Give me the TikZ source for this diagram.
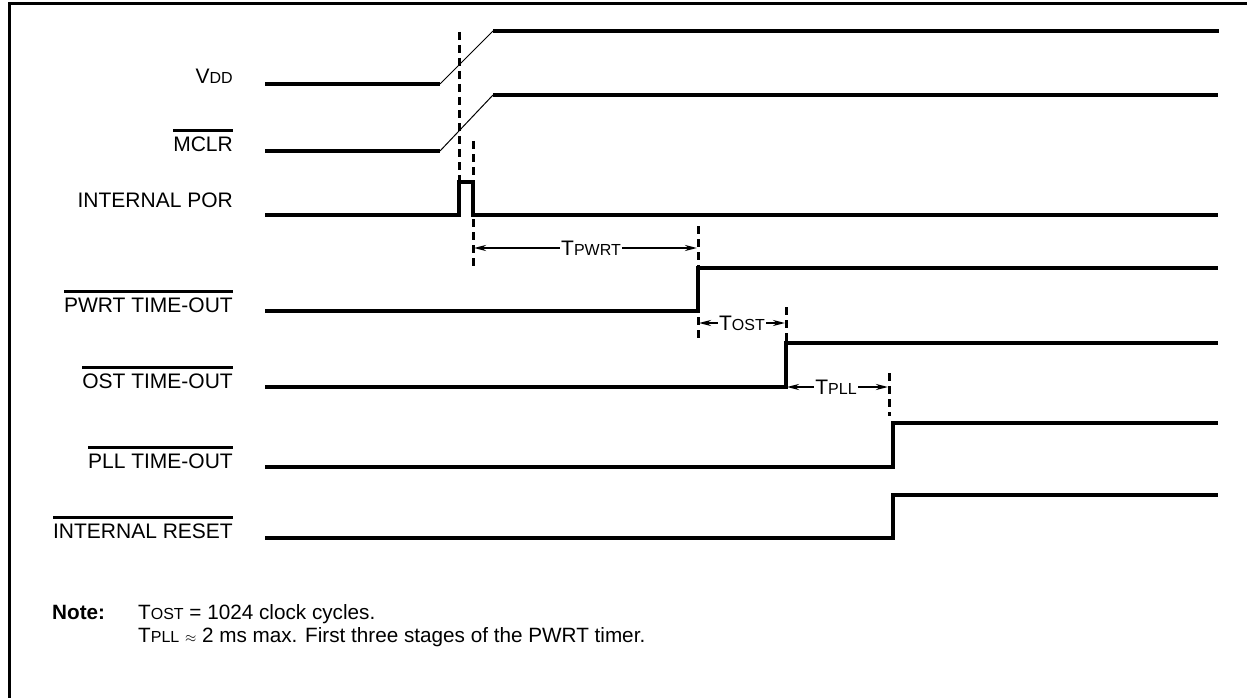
\documentclass[tikz,border=0pt]{standalone}
\usepackage{fontspec}
\setmainfont{Liberation Sans}
\usetikzlibrary{arrows.meta}
\newcommand\smc[1]{{\fontsize{16}{18}\selectfont #1}}
\newcommand\ovl[1]{\leavevmode\vbox{\hrule height 2.8pt \kern 4.5pt \hbox{#1}}}
\begin{document}
\begin{tikzpicture}[x=1pt,y=-1pt,
  sig/.style={line width=3.3pt, line cap=butt, line join=miter},
  ramp/.style={line width=1pt},
  dashmarker/.style={line width=3pt, dash pattern=on 8pt off 5pt},
  dim/.style={line width=2pt, {Stealth[length=12pt,width=6pt]}-{Stealth[length=12pt,width=6pt]}},
  lbl/.style={anchor=base east, inner sep=0pt, font=\fontsize{21}{25}\selectfont},
  dimlbl/.style={fill=white, inner sep=1.5pt, font=\fontsize{21}{25}\selectfont},
  note/.style={anchor=base west, inner sep=0pt, font=\fontsize{20.7}{24}\selectfont}]
\useasboundingbox (0,0) rectangle (1247,698);
% frame
\draw[line width=3pt] (9.5,698) -- (9.5,4) -- (1247,4);
% labels
\node[lbl] (lvdd) at (233,84) {V\smc{DD}};
\node[lbl] (lmclr) at (233,151) {\ovl{MCLR}};
\node[lbl] (lpor) at (233,207) {INTERNAL POR};
\node[lbl] (lpwrt) at (233,312) {\ovl{PWRT TIME-OUT}};
\node[lbl] (lost) at (233,388) {\ovl{OST TIME-OUT}};
\node[lbl] (lpll) at (233,468) {\ovl{PLL TIME-OUT}};
\node[lbl] (lrst) at (233,538) {\ovl{INTERNAL RESET}};
% VDD
\draw[sig] (265,84) -- (440,84);
\draw[ramp] (440,84) -- (493,31);
\draw[sig] (493,31) -- (1219,31);
% MCLR
\draw[sig] (265,151) -- (440,151);
\draw[ramp] (440,151) -- (493,95);
\draw[sig] (493,95) -- (1218,95);
% INTERNAL POR
\draw[sig] (265,215) -- (459,215) -- (459,182) -- (473,182) -- (473,215) -- (1218,215);
% PWRT
\draw[sig] (265,311) -- (698,311) -- (698,268) -- (1218,268);
% OST
\draw[sig] (265,387) -- (786,387) -- (786,343) -- (1218,343);
% PLL
\draw[sig] (265,467) -- (893,467) -- (893,423) -- (1218,423);
% INTERNAL RESET
\draw[sig] (265,538) -- (893,538) -- (893,495) -- (1218,495);
% dashed markers
\coordinate (m1a) at (459,32); \coordinate (m1b) at (459,180);
\coordinate (m2a) at (473,141); \coordinate (m2b) at (473,270);
\coordinate (m3a) at (698,226); \coordinate (m3b) at (698,338);
\coordinate (m4a) at (786,307); \coordinate (m4b) at (786,345);
\coordinate (m5a) at (889,373); \coordinate (m5b) at (889,416);
\draw[dashmarker] (m1a) -- (m1b);
\draw[dashmarker] (m2a) -- (m2b);
\draw[dashmarker] (m3a) -- (m3b);
\draw[dashmarker] (m4a) -- (m4b);
\draw[dashmarker] (m5a) -- (m5b);
% dimension arrows
\coordinate (d1a) at (474,248); \coordinate (d1b) at (697,248);
\coordinate (d2a) at (699,323); \coordinate (d2b) at (785,323);
\coordinate (d3a) at (787,387); \coordinate (d3b) at (888,387);
\draw[dim] (d1a) -- (d1b);
\draw[dim] (d2a) -- (d2b);
\draw[dim] (d3a) -- (d3b);
\node[dimlbl] (tpwrt) at (591,248) {T\smc{PWRT}};
\node[dimlbl] (tost) at (742,323) {T\smc{OST}};
\node[dimlbl] (tpll) at (836,387) {T\smc{PLL}};
% note
\node[note] (notek) at (52,619) {\bfseries Note:};
\node[note] (note1) at (138,619) {T\smc{OST} = 1024 clock cycles.};
\node[note] (note2) at (138,642) {T\smc{PLL} {\fontsize{14}{16}\selectfont$\approx$} 2 ms max. First three stages of the PWRT timer.};
\end{tikzpicture}
\end{document}
